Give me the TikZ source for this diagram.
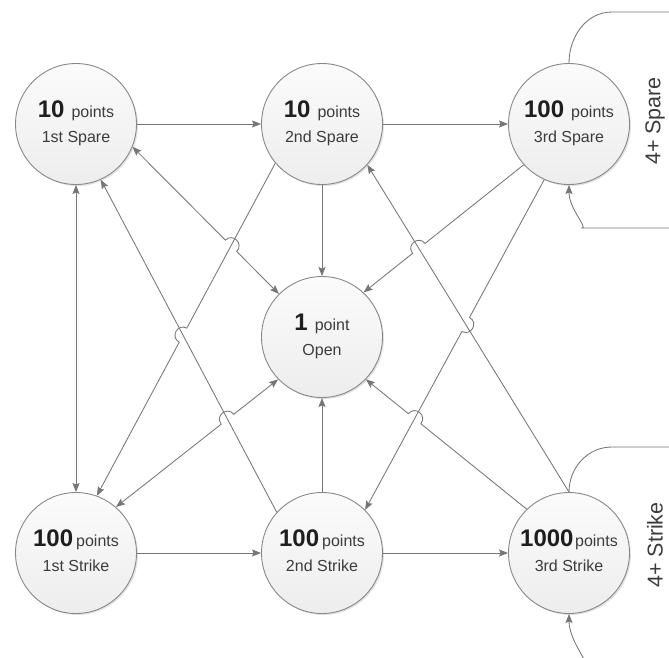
\documentclass[tikz,border=0pt]{standalone}
\usepackage{fontspec}
\setmainfont{Liberation Sans}
\usetikzlibrary{arrows.meta,calc,intersections,shadows}
\definecolor{edgec}{HTML}{767676}
\definecolor{ringc}{HTML}{888888}
\definecolor{txtc}{HTML}{3C3C3C}
\definecolor{numc}{HTML}{1E1E1E}
\newcommand\twoline[4]{\rule{0pt}{18pt}{\fontsize{24}{25}\selectfont\bfseries\color{numc}#1}\hspace{#2}#3\\#4\rule[-6pt]{0pt}{6pt}}
\newcommand\hopline[6]{%
  \path[name path=hpA] (#2) -- (#3);
  \path[name path=hpB] (#4) -- (#5);
  \path[name intersections={of=hpA and hpB, by=hx}];
  \draw[#1] (#2) -- ($(hx)!8pt!(#2)$) to[#6=90, looseness=1.7] ($(hx)!8pt!(#3)$) -- (#3);
}
\begin{document}
\begin{tikzpicture}[x=1pt,y=-1pt,
  >={Stealth[length=9pt,width=7pt,inset=1.5pt]},
  st/.style={circle, minimum size=121pt, inner sep=0pt, draw=ringc, line width=0.9pt,
    top color=gray!3, bottom color=gray!14,
    drop shadow={shadow xshift=1.5pt, shadow yshift=-1.5pt, opacity=0.22},
    align=center, font=\fontsize{16}{25}\selectfont, text=txtc},
  conn/.style={draw=edgec, line width=0.85pt, ->},
  conn2/.style={draw=edgec, line width=0.85pt, <->},
  lbl/.style={rotate=90, inner sep=0pt, text=txtc, font=\fontsize{21.5}{24}\selectfont}]
\useasboundingbox (0,0) rectangle (669,657);
\clip (0,0) rectangle (669,657);
\fill[white] (0,0) rectangle (669,657);

\node[st] (S1) at (76,124) {\twoline{10}{7pt}{points}{1st Spare}};
\node[st] (S2) at (322,124) {\twoline{10}{7pt}{points}{2nd Spare}};
\node[st] (S3) at (569,124) {\twoline{100}{7pt}{points}{3rd Spare}};
\node[st] (O) at (322,337) {\twoline{1}{7pt}{point}{Open}};
\node[st] (K1) at (76,553) {\twoline{100}{3pt}{points}{1st Strike}};
\node[st] (K2) at (322,553) {\twoline{100}{3pt}{points}{2nd Strike}};
\node[st] (K3) at (569,553) {\twoline{1000}{1.5pt}{points}{3rd Strike}};

\node[lbl] (spare4) at (655,121) {4+ Spare};
\node[lbl] (strike4) at (655,545) {4+ Strike};

% straight connectors
\draw[conn] (S1) -- (S2);
\draw[conn] (S2) -- (S3);
\draw[conn] (K1) -- (K2);
\draw[conn] (K2) -- (K3);
\draw[conn] (S2) -- (O);
\draw[conn] (K2) -- (O);
\draw[conn2] (S1) -- (K1);
\draw[conn] (K2.138) -- (S1.-66);
\draw[conn] (K3.north) -- (S2.-42);

% connectors with line jumps
\hopline{conn2}{S1.-22}{O.135}{S2.-140}{K1.70}{bend left}
\hopline{conn2}{K1.49}{O.-136}{K2.138}{S1.-66}{bend left}
\hopline{conn}{S3.-138}{O.47}{K3.north}{S2.-42}{bend right}
\hopline{conn}{K3.134}{O.-44}{S3.-114}{K2.45}{bend right}
\hopline{conn}{S2.-140}{K1.70}{K2.138}{S1.-66}{bend right}
\hopline{conn}{S3.-114}{K2.45}{K3.north}{S2.-42}{bend left}

% self loops
\coordinate (a1) at (612,12);
\coordinate (a2) at (699,12);
\coordinate (a3) at (699,228);
\coordinate (a4) at (612,228);
\draw[conn] (S3.north) to[out=90,in=180] (a1) [rounded corners=30pt] -- (a2) -- (a3) -- (a4) [sharp corners] to[out=180,in=-90] (S3.south);
\coordinate (b1) at (612,447);
\coordinate (b2) at (699,447);
\coordinate (b3) at (699,662);
\coordinate (b4) at (614,662);
\draw[conn] (K3.north) to[out=90,in=180] (b1) [rounded corners=30pt] -- (b2) -- (b3) -- (b4) [sharp corners] to[out=180,in=-90] (K3.south);
\end{tikzpicture}
\end{document}
